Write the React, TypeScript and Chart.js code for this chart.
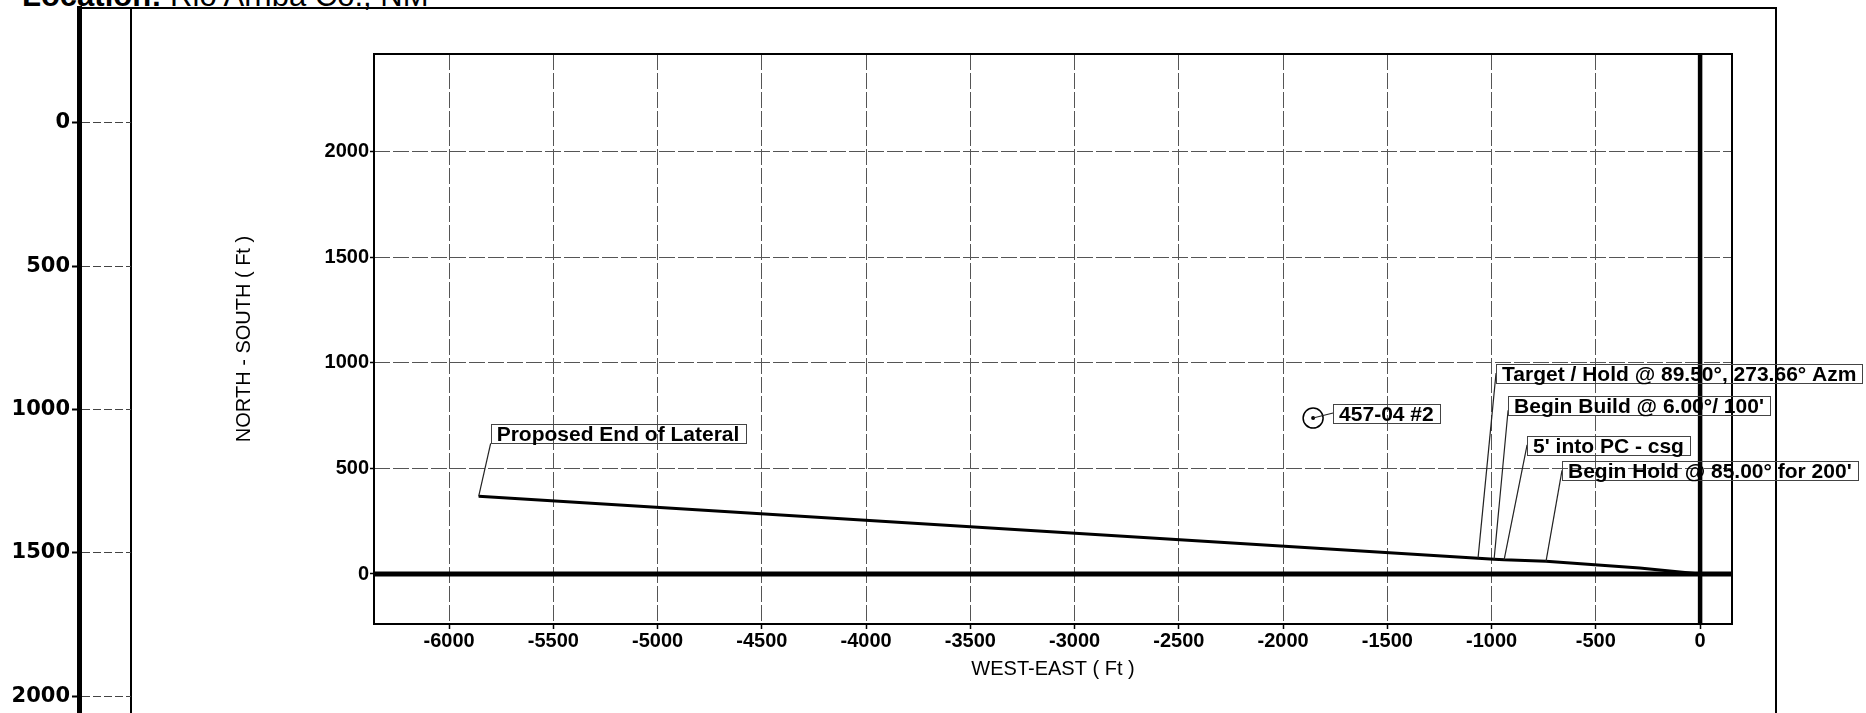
import React, { useEffect, useRef } from "react";
import { Chart, registerables } from "chart.js";

Chart.register(...registerables);

// ---- Plan view data (feet) ----
const xTickValues = [-6000, -5500, -5000, -4500, -4000, -3500, -3000, -2500, -2000, -1500, -1000, -500, 0];
const yTickValues = [0, 500, 1000, 1500, 2000];
const xRange = [-6360, 153];
const yRange = [-237, 2464];

// wellbore trajectory (West-East, North-South)
const trajectoryX = [0, -290, -739, -940, -988, -1065, -5858];
const trajectoryY = [0, 28, 60, 67, 70, 75, 368];

// offset well
const offsetWellX = [-1856];
const offsetWellY = [739];
const offsetWellName = "457-04 #2";

// left (vertical section) axis of the neighbouring drawing
const sectionTickValues = [0, 500, 1000, 1500, 2000];
const sectionRange = [-401, 2059];

const titleBold = "Location:";
const titleRest = " Rio Arriba Co., NM";
const xAxisTitle = "WEST-EAST ( Ft )";
const yAxisTitle = "NORTH - SOUTH ( Ft )";

const labelTexts = [
  "Proposed End of Lateral",
  "Target / Hold @ 89.50°, 273.66° Azm",
  "Begin Build @ 6.00°/ 100'",
  "5' into PC - csg",
  "Begin Hold @ 85.00° for 200'",
];
const labelPointIndex = [6, 5, 4, 3, 2];

// label placement (pixel offsets from the anchor point) - style only
const labelLayout = [
  { dx: 12, dy: -55, leadDy: 2 },
  { dx: 18, dy: -177, leadDy: -8 },
  { dx: 14, dy: -146, leadDy: -3 },
  { dx: 23, dy: -107, leadDy: -8 },
  { dx: 16, dy: -83, leadDy: -8 },
];
const wellLabelLayout = { dx: 20, dy: 3, leadDy: -8 };

const FONT = '"Liberation Sans", Arial, Helvetica, sans-serif';

function drawBoxLabel(ctx: CanvasRenderingContext2D, text: string, ax: number, ay: number, lay: { dx: number; dy: number; leadDy: number }) {
  ctx.save();
  ctx.font = `bold 21px ${FONT}`;
  const w = ctx.measureText(text).width;
  const left = ax + lay.dx;
  const base = ay + lay.dy;
  const top = base - 17;
  const bottom = base + 2;
  ctx.strokeStyle = "#222";
  ctx.lineWidth = 1.2;
  ctx.beginPath();
  ctx.moveTo(ax, ay);
  ctx.lineTo(left, base + lay.leadDy);
  ctx.stroke();
  ctx.strokeStyle = "#444";
  ctx.lineWidth = 1;
  ctx.strokeRect(Math.round(left) + 0.5, Math.round(top) + 0.5, Math.round(w + 12), Math.round(bottom - top));
  ctx.fillStyle = "#000";
  ctx.textBaseline = "alphabetic";
  ctx.textAlign = "left";
  ctx.fillText(text, left + 6, base);
  ctx.restore();
}

const planPlugin = {
  id: "planDecor",
  beforeDatasetsDraw(chart: any) {
    const { ctx, chartArea: a, scales } = chart;
    const x = scales.x;
    const y = scales.y;
    ctx.save();
    ctx.strokeStyle = "#000";
    ctx.setLineDash([]);
    const y0 = y.getPixelForValue(0);
    ctx.lineWidth = 5;
    ctx.beginPath();
    ctx.moveTo(a.left, y0);
    ctx.lineTo(a.right, y0);
    ctx.stroke();
    const x0 = x.getPixelForValue(0);
    ctx.lineWidth = 4.5;
    ctx.beginPath();
    ctx.moveTo(x0, a.top);
    ctx.lineTo(x0, a.bottom);
    ctx.stroke();
    ctx.lineWidth = 2;
    ctx.strokeRect(a.left, a.top, a.right - a.left, a.bottom - a.top);
    ctx.restore();
  },
  afterDatasetsDraw(chart: any) {
    const { ctx, scales } = chart;
    const x = scales.x;
    const y = scales.y;
    labelTexts.forEach((t, i) => {
      const idx = labelPointIndex[i];
      const ax = x.getPixelForValue(trajectoryX[idx]);
      const ay = y.getPixelForValue(trajectoryY[idx]);
      drawBoxLabel(ctx, t, ax, ay, labelLayout[i]);
    });
    const wx = x.getPixelForValue(offsetWellX[0]);
    const wy = y.getPixelForValue(offsetWellY[0]);
    drawBoxLabel(ctx, offsetWellName, wx, wy, wellLabelLayout);
  },
};

export default function App() {
  const mainRef = useRef<HTMLCanvasElement | null>(null);
  const sideRef = useRef<HTMLCanvasElement | null>(null);

  useEffect(() => {
    if (!mainRef.current || !sideRef.current) return;

    const main = new Chart(mainRef.current, {
      type: "scatter",
      data: {
        datasets: [
          {
            label: "Wellbore",
            data: trajectoryX.map((v, i) => ({ x: v, y: trajectoryY[i] })),
            showLine: true,
            borderColor: "#000",
            borderWidth: 3,
            pointRadius: 0,
            tension: 0,
          },
          {
            label: offsetWellName,
            data: offsetWellX.map((v, i) => ({ x: v, y: offsetWellY[i] })),
            showLine: false,
            pointRadius: 10,
            pointBorderWidth: 1.5,
            pointBorderColor: "#000",
            pointBackgroundColor: "rgba(0,0,0,0)",
          },
          {
            label: offsetWellName + " center",
            data: offsetWellX.map((v, i) => ({ x: v, y: offsetWellY[i] })),
            showLine: false,
            pointRadius: 2,
            pointBorderWidth: 0,
            pointBackgroundColor: "#000",
          },
        ],
      },
      options: {
        responsive: false,
        animation: false,
        events: [],
        layout: { autoPadding: false, padding: { left: 200, top: 54, right: 134, bottom: 9 } },
        plugins: { legend: { display: false }, tooltip: { enabled: false } },
        scales: {
          x: {
            type: "linear",
            min: xRange[0],
            max: xRange[1],
            afterFit: (s: any) => {
              s.height = 80;
            },
            afterBuildTicks: (s: any) => {
              s.ticks = xTickValues.map((v) => ({ value: v }));
            },
            ticks: {
              autoSkip: false,
              maxRotation: 0,
              padding: 0,
              color: "#000",
              font: { family: FONT, weight: "bold", size: 20 },
              callback: (v: any) => String(v),
            },
            grid: { color: "#555", lineWidth: 1, tickLength: 5, tickColor: "#000", tickWidth: 1.5 },
            border: { display: false, dash: [16, 3] },
            title: {
              display: true,
              text: xAxisTitle,
              color: "#000",
              font: { family: FONT, size: 20 },
              padding: { top: 0, bottom: 23 },
            },
          },
          y: {
            type: "linear",
            min: yRange[0],
            max: yRange[1],
            afterFit: (s: any) => {
              s.width = 174;
            },
            afterBuildTicks: (s: any) => {
              s.ticks = yTickValues.map((v) => ({ value: v }));
            },
            ticks: {
              autoSkip: false,
              padding: 1,
              color: "#000",
              font: { family: FONT, weight: "bold", size: 20 },
              callback: (v: any) => String(v),
            },
            grid: { color: "#555", lineWidth: 1, tickLength: 4, tickColor: "#000", tickWidth: 1.5 },
            border: { display: false, dash: [16, 3] },
            title: {
              display: true,
              text: yAxisTitle,
              color: "#000",
              font: { family: FONT, size: 20 },
              padding: { top: 32, bottom: 0 },
            },
          },
        },
      },
      plugins: [planPlugin],
    } as any);

    const side = new Chart(sideRef.current, {
      type: "scatter",
      data: { datasets: [] },
      options: {
        responsive: false,
        animation: false,
        events: [],
        layout: { autoPadding: false, padding: { left: 0, top: 8, right: 9, bottom: 0 } },
        plugins: { legend: { display: false }, tooltip: { enabled: false } },
        scales: {
          x: { type: "linear", display: false, min: 0, max: 1 },
          y: {
            type: "linear",
            position: "left",
            reverse: true,
            min: sectionRange[0],
            max: sectionRange[1],
            afterFit: (s: any) => {
              s.width = 79;
              s.paddingTop = 0;
              s.paddingBottom = 0;
            },
            afterBuildTicks: (s: any) => {
              s.ticks = sectionTickValues.map((v) => ({ value: v }));
            },
            ticks: {
              autoSkip: false,
              padding: 2,
              color: "#000",
              font: { family: '"DejaVu Sans", Verdana, sans-serif', weight: "bold", size: 21 },
              callback: (v: any) => String(v),
            },
            grid: { color: "#444", lineWidth: 1, tickLength: 7, tickColor: "#000", tickWidth: 2 },
            border: { display: true, width: 5, color: "#000", dash: [8, 3] },
          },
        },
      },
    } as any);

    return () => {
      main.destroy();
      side.destroy();
    };
  }, []);

  return (
    <div
      style={{
        position: "fixed",
        left: 0,
        top: 0,
        width: 1866,
        height: 713,
        overflow: "hidden",
        background: "#fff",
      }}
    >
      <div
        style={{
          position: "absolute",
          left: 22,
          top: -20,
          fontFamily: FONT,
          fontSize: 31,
          lineHeight: "31px",
          whiteSpace: "nowrap",
          color: "#000",
        }}
      >
        <b>{titleBold}</b>
        <span>{titleRest}</span>
      </div>
      <div
        style={{
          position: "absolute",
          left: 77,
          top: 7,
          width: 1700,
          height: 720,
          boxSizing: "border-box",
          borderTop: "2px solid #000",
          borderRight: "2px solid #000",
        }}
      />
      <div style={{ position: "absolute", left: 130, top: 8, width: 2, height: 705, background: "#000" }} />
      <canvas ref={sideRef} width={140} height={713} style={{ position: "absolute", left: 0, top: 0 }} />
      <canvas ref={mainRef} width={1866} height={713} style={{ position: "absolute", left: 0, top: 0 }} />
    </div>
  );
}
